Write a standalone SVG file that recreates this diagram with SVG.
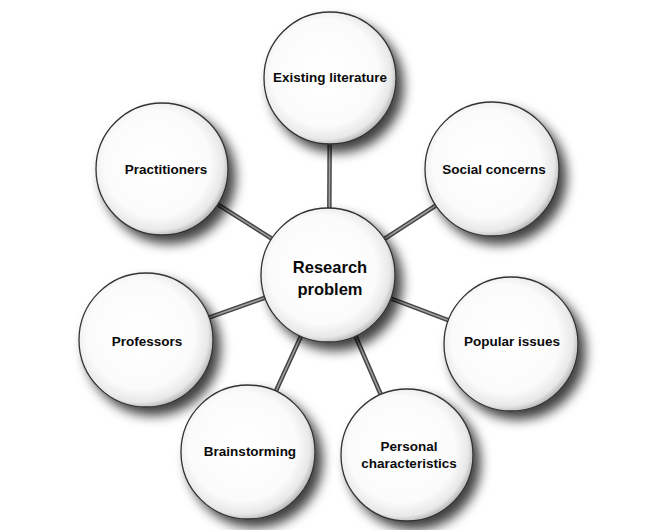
<svg xmlns="http://www.w3.org/2000/svg" width="665" height="530" viewBox="0 0 665 530">
<defs>
<radialGradient id="ball" cx="46%" cy="46%" r="56%">
<stop offset="0" stop-color="#ffffff"/>
<stop offset="0.72" stop-color="#fbfbfb"/>
<stop offset="0.9" stop-color="#e8e8e8"/>
<stop offset="1" stop-color="#b0b0b0"/>
</radialGradient>
<filter id="sh" x="-30%" y="-30%" width="170%" height="170%">
<feDropShadow dx="7" dy="8" stdDeviation="6" flood-color="#000" flood-opacity="0.75"/>
</filter>
</defs>
<style>
.node circle{fill:url(#ball);stroke:#333;stroke-width:1.3;filter:url(#sh)}
.node text{font-family:"Liberation Sans",Arial,sans-serif;font-weight:bold;font-size:13.5px;fill:#0a0a0a;text-anchor:middle}
.outer{stroke:#444;stroke-width:4.5;fill:none}
.inner{stroke:#a0a0a0;stroke-width:1.6;fill:none}
</style>
<rect width="665" height="530" fill="#fff"/>
<g id="connectors">
<g class="outer">
<line x1="329" y1="275" x2="330" y2="78"/>
<line x1="329" y1="275" x2="162" y2="169"/>
<line x1="329" y1="275" x2="492" y2="169"/>
<line x1="329" y1="275" x2="146" y2="340"/>
<line x1="329" y1="275" x2="511" y2="344"/>
<line x1="329" y1="275" x2="248" y2="452"/>
<line x1="329" y1="275" x2="407" y2="455"/>
</g>
<g class="inner">
<line x1="329" y1="275" x2="330" y2="78"/>
<line x1="329" y1="275" x2="162" y2="169"/>
<line x1="329" y1="275" x2="492" y2="169"/>
<line x1="329" y1="275" x2="146" y2="340"/>
<line x1="329" y1="275" x2="511" y2="344"/>
<line x1="329" y1="275" x2="248" y2="452"/>
<line x1="329" y1="275" x2="407" y2="455"/>
</g>
</g>
<g id="existing-literature" class="node"><circle cx="330" cy="78" r="66"/><text x="330" y="82">Existing literature</text></g>
<g id="practitioners" class="node"><circle cx="162" cy="169" r="66"/><text x="166" y="174">Practitioners</text></g>
<g id="social-concerns" class="node"><circle cx="492" cy="169" r="67"/><text x="494" y="174">Social concerns</text></g>
<g id="professors" class="node"><circle cx="146" cy="340" r="67"/><text x="147" y="346">Professors</text></g>
<g id="popular-issues" class="node"><circle cx="511" cy="344" r="67"/><text x="512" y="346">Popular issues</text></g>
<g id="brainstorming" class="node"><circle cx="248" cy="452" r="67"/><text x="250" y="456">Brainstorming</text></g>
<g id="personal-characteristics" class="node"><circle cx="407" cy="455" r="66"/><text x="409" y="451">Personal</text><text x="409" y="468">characteristics</text></g>
<g id="research-problem" class="node"><circle cx="328" cy="275" r="67"/><text x="330" y="273" style="font-size:16.5px">Research</text><text x="330" y="295" style="font-size:16.5px">problem</text></g>
</svg>
